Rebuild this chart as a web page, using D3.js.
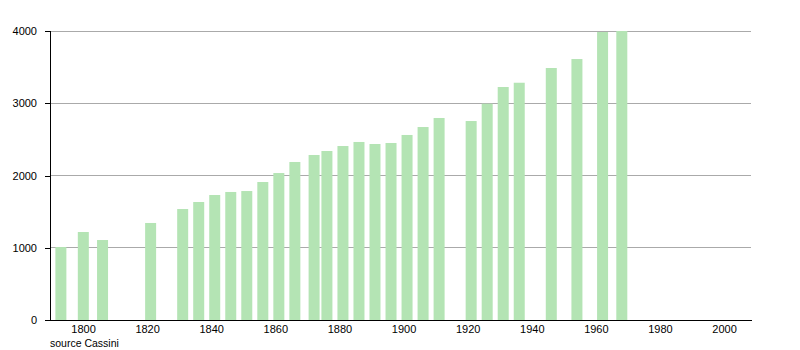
<!DOCTYPE html>
<html>
<head>
<meta charset="utf-8">
<script src="https://cdn.jsdelivr.net/npm/d3@7"></script>
<style>
  body { margin: 0; background: #fff; }
  svg text { font-family: "Liberation Sans", Arial, sans-serif; font-size: 11px; fill: #000; }
</style>
</head>
<body>
<div id="chart"></div>
<script>
/* ── Data ──────────────────────────────────────────────────────────────── */
const years = [1793, 1800, 1806, 1821, 1831, 1836, 1841, 1846, 1851, 1856,
               1861, 1866, 1872, 1876, 1881, 1886, 1891, 1896, 1901, 1906,
               1911, 1921, 1926, 1931, 1936, 1946, 1954, 1962, 1968];
const population = [1010, 1218, 1107, 1343, 1536, 1633, 1730, 1772, 1785, 1910,
                    2034, 2187, 2284, 2339, 2408, 2464, 2436, 2450, 2561, 2671,
                    2796, 2754, 2994, 3225, 3284, 3488, 3612, 3986, 4000];
const xTicks = [1800, 1820, 1840, 1860, 1880, 1900, 1920, 1940, 1960, 1980, 2000];
const yTicks = [0, 1000, 2000, 3000, 4000];
const sourceLabel = 'source Cassini';

const BAR = '#b4e4b4';
const GRID = '#aaaaaa';

/* ── Chart ─────────────────────────────────────────────────────────────── */
const W = 800, H = 350;
const svg = d3.select('#chart').append('svg')
  .attr('width', W).attr('height', H);

const x = d3.scaleLinear().domain([1789.7, 2008.4]).range([50, 751]);
const y = d3.scaleLinear().domain([0, 4000]).range([320, 31]);
const barW = 11;

// gridlines
svg.append('g')
  .selectAll('line')
  .data(yTicks.filter(d => d > 0))
  .join('line')
    .attr('x1', 50).attr('x2', 751)
    .attr('y1', d => y(d)).attr('y2', d => y(d))
    .attr('stroke', GRID).attr('stroke-width', 1)
    .attr('shape-rendering', 'crispEdges');

// bars
svg.append('g')
  .selectAll('rect')
  .data(years.map((yr, i) => ({ yr, v: population[i] })))
  .join('rect')
    .attr('x', d => x(d.yr) - barW / 2 + 0.3)
    .attr('y', d => y(d.v))
    .attr('width', barW)
    .attr('height', d => y(0) - y(d.v))
    .attr('fill', BAR);

// y axis
const yAxis = svg.append('g')
  .attr('transform', 'translate(50,0)')
  .call(d3.axisLeft(y).tickValues(yTicks).tickSize(5).tickPadding(8).tickFormat(d3.format('d')));
yAxis.select('.domain').attr('stroke', '#000').attr('shape-rendering', 'crispEdges');
yAxis.selectAll('.tick line').attr('stroke', '#000').attr('shape-rendering', 'crispEdges');

// x axis
const xAxis = svg.append('g')
  .attr('transform', `translate(0,${y(0)})`)
  .call(d3.axisBottom(x).tickValues(xTicks).tickSize(0).tickPadding(5).tickFormat(d3.format('d')));
xAxis.select('.domain').attr('stroke', '#000').attr('shape-rendering', 'crispEdges');

svg.selectAll('.tick text').style('font-family', '"Liberation Sans", Arial, sans-serif').style('font-size', '11px');

// source note
svg.append('text')
  .attr('x', 50).attr('y', 347)
  .style('font-size', '10.5px')
  .text(sourceLabel);
</script>
</body>
</html>
